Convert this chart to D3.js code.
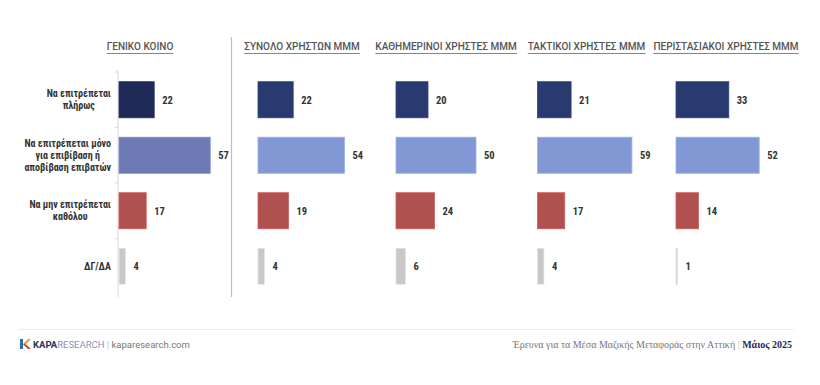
<!DOCTYPE html>
<html><head><meta charset="utf-8">
<script src="https://cdn.jsdelivr.net/npm/d3@7"></script>
<style>
body{margin:0;background:#fff;}
svg{display:block;}
</style></head>
<body><svg id="c" width="820" height="385"></svg>
<script>
const categories = ["Να επιτρέπεται πλήρως", "Να επιτρέπεται μόνο για επιβίβαση ή αποβίβαση επιβατών", "Να μην επιτρέπεται καθόλου", "ΔΓ/ΔΑ"];
const categoryLines = [["Να επιτρέπεται","πλήρως"],["Να επιτρέπεται μόνο","για επιβίβαση ή","αποβίβαση επιβατών"],["Να μην επιτρέπεται","καθόλου"],["ΔΓ/ΔΑ"]];
const groups = ["ΓΕΝΙΚΟ ΚΟΙΝΟ", "ΣΥΝΟΛΟ ΧΡΗΣΤΩΝ ΜΜΜ", "ΚΑΘΗΜΕΡΙΝΟΙ ΧΡΗΣΤΕΣ ΜΜΜ", "ΤΑΚΤΙΚΟΙ ΧΡΗΣΤΕΣ ΜΜΜ", "ΠΕΡΙΣΤΑΣΙΑΚΟΙ ΧΡΗΣΤΕΣ ΜΜΜ"];
const genikoKoino = [22, 57, 17, 4];
const synoloXriston = [22, 54, 19, 4];
const kathimerinoi = [20, 50, 24, 6];
const taktikoi = [21, 59, 17, 4];
const peristasiakoi = [33, 52, 14, 1];
const seriesValues = [genikoKoino, synoloXriston, kathimerinoi, taktikoi, peristasiakoi];

const colorsGeneral = ["#1f2a56", "#6e7ab4", "#b0514f", "#c8c8c8"];
const colorsOthers = ["#283a6f", "#8298d5", "#b0514f", "#c8c8c8"];

const NARROW = "'Liberation Sans Narrow','Roboto Condensed',Roboto,sans-serif";
const svg = d3.select("#c");
svg.append("rect").attr("width",820).attr("height",385).attr("fill","#fff");

const y = d3.scaleBand().domain(categories).range([72, 294]).paddingInner(0.35).paddingOuter(0.175);
const x = d3.scaleLinear().domain([0, 100]).range([0, 160]);

const panelStarts = [119, 258, 396, 537.5, 676];
const titleCenters = [140, 302, 446, 586.5, 726];

// axis for general panel
const axisG = svg.append("g").attr("transform", `translate(${panelStarts[0]-1},0)`);
axisG.append("line").attr("y1", 70).attr("y2", 297).attr("stroke", "#d9d9d9").attr("stroke-width", 1);
const step = y.step();
categories.forEach((c, i) => {
  const yy = y(c) - (step - y.bandwidth())/2;
  axisG.append("line").attr("x1",-3).attr("x2",0).attr("y1",yy).attr("y2",yy).attr("stroke","#d9d9d9");
});

// separator
svg.append("line").attr("x1",231.5).attr("x2",231.5).attr("y1",37).attr("y2",297).attr("stroke","#bdbdbd").attr("stroke-width",1.2);

// category labels
categories.forEach((c, i) => {
  const lines = categoryLines[i];
  const cy = y(c) + y.bandwidth()/2;
  const lh = 12;
  const t = svg.append("text").attr("text-anchor","middle").style("font-family",NARROW).style("font-size","10px").attr("font-weight","bold").attr("fill","#333");
  const spans = lines.map((l, j) => t.append("tspan").attr("y", cy + (j - (lines.length-1)/2)*lh + 3.5).text(l));
  const maxW = d3.max(spans, s => s.node().getComputedTextLength());
  const cx = 111 - maxW/2;
  spans.forEach(s => s.attr("x", cx));
});

groups.forEach((g, gi) => {
  const x0 = panelStarts[gi];
  const cols = gi === 0 ? colorsGeneral : colorsOthers;
  const tt = svg.append("text").attr("x", titleCenters[gi]).attr("y", 50).attr("text-anchor","middle")
    .style("font-family","Roboto, sans-serif").style("font-size","10px").attr("fill","#555").attr("font-weight","500").text(g);
  const bb = tt.node().getBBox();
  svg.append("line").attr("x1",bb.x).attr("x2",bb.x+bb.width).attr("y1",53.5).attr("y2",53.5).attr("stroke","#777").attr("stroke-width",0.9);
  const vals = seriesValues[gi];
  const gg = svg.append("g").attr("transform",`translate(${x0},0)`);
  gg.selectAll("rect").data(vals).join("rect")
    .attr("x", 0).attr("y", (d,i)=>y(categories[i])).attr("height", y.bandwidth())
    .attr("width", d=>x(d)).attr("fill",(d,i)=>cols[i])
    .attr("stroke", (d,i)=>d3.color(cols[i]).brighter(0.4)).attr("stroke-width",0.8);
  gg.selectAll("text.v").data(vals).join("text").attr("class","v")
    .attr("x", d=>x(d)+8).attr("y",(d,i)=>y(categories[i])+y.bandwidth()/2+3.8)
    .style("font-family",NARROW).style("font-size","10.5px").attr("font-weight","bold").attr("fill","#333").text(d=>d);
});

// footer
svg.append("line").attr("x1",18).attr("x2",795).attr("y1",329.5).attr("y2",329.5).attr("stroke","#f3efd9").attr("stroke-width",1);
const logo = svg.append("g").attr("transform","translate(20,339)");
logo.append("path").attr("d","M0,0 L3,0 L3,10 L0,10 Z").attr("fill","#2b6fb3");
logo.append("path").attr("d","M3,5 L8,0 L11,0 L5,6 Z").attr("fill","#e0a23a");
logo.append("path").attr("d","M5,4.5 L11,10 L8,10 L3,5.5 Z").attr("fill","#d2463d");
const ft = svg.append("text").attr("x",33).attr("y",348).style("font-size","9.5px").style("font-family","Roboto, sans-serif");
ft.append("tspan").attr("font-weight","bold").attr("fill","#2a3560").text("KAPA");
ft.append("tspan").attr("fill","#8a93b8").text("RESEARCH");
ft.append("tspan").attr("fill","#bbb").text(" | ");
ft.append("tspan").attr("fill","#777").text("kaparesearch.com");

const fr = svg.append("text").attr("x",792).attr("y",348).attr("text-anchor","end").style("font-size","10px")
  .style("font-family","'Liberation Serif','DejaVu Serif',serif");
fr.append("tspan").attr("fill","#777").text("Έρευνα για τα Μέσα Μαζικής Μεταφοράς στην Αττική ");
fr.append("tspan").attr("fill","#bbb").text("| ");
fr.append("tspan").attr("fill","#1f2a56").attr("font-weight","bold").text("Μάιος 2025");
</script></body></html>
